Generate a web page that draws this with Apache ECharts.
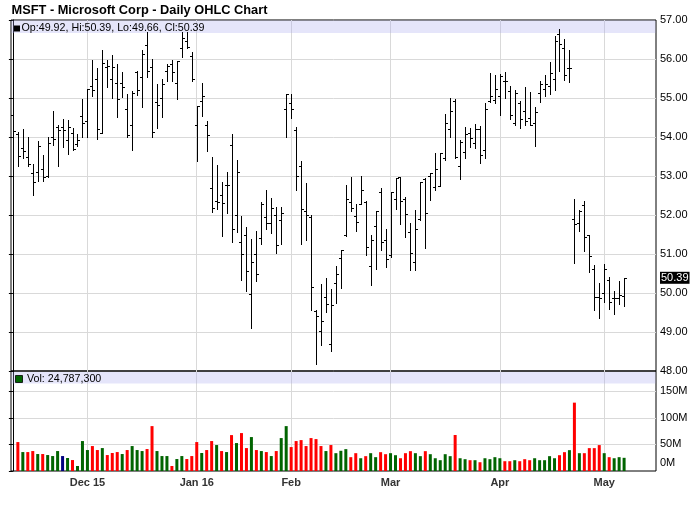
<!DOCTYPE html>
<html><head><meta charset="utf-8">
<script src="https://cdn.jsdelivr.net/npm/echarts@6/dist/echarts.min.js"></script>
<style>html,body{margin:0;padding:0;background:#fff}#c{width:700px;height:512px}</style>
</head><body><div id="c"></div>
<script>
var dates = [
'2015-11-09','2015-11-10','2015-11-11','2015-11-12','2015-11-13','2015-11-16','2015-11-17','2015-11-18','2015-11-19','2015-11-20','2015-11-23','2015-11-24','2015-11-25','2015-11-27','2015-11-30',
'2015-12-01','2015-12-02','2015-12-03','2015-12-04','2015-12-07','2015-12-08','2015-12-09','2015-12-10','2015-12-11','2015-12-14','2015-12-15','2015-12-16','2015-12-17','2015-12-18','2015-12-21','2015-12-22','2015-12-23','2015-12-24','2015-12-28','2015-12-29','2015-12-30','2015-12-31',
'2016-01-04','2016-01-05','2016-01-06','2016-01-07','2016-01-08','2016-01-11','2016-01-12','2016-01-13','2016-01-14','2016-01-15','2016-01-19','2016-01-20','2016-01-21','2016-01-22','2016-01-25','2016-01-26','2016-01-27','2016-01-28','2016-01-29',
'2016-02-01','2016-02-02','2016-02-03','2016-02-04','2016-02-05','2016-02-08','2016-02-09','2016-02-10','2016-02-11','2016-02-12','2016-02-16','2016-02-17','2016-02-18','2016-02-19','2016-02-22','2016-02-23','2016-02-24','2016-02-25','2016-02-26','2016-02-29',
'2016-03-01','2016-03-02','2016-03-03','2016-03-04','2016-03-07','2016-03-08','2016-03-09','2016-03-10','2016-03-11','2016-03-14','2016-03-15','2016-03-16','2016-03-17','2016-03-18','2016-03-21','2016-03-22','2016-03-23','2016-03-24','2016-03-28','2016-03-29','2016-03-30','2016-03-31',
'2016-04-01','2016-04-04','2016-04-05','2016-04-06','2016-04-07','2016-04-08','2016-04-11','2016-04-12','2016-04-13','2016-04-14','2016-04-15','2016-04-18','2016-04-19','2016-04-20','2016-04-21','2016-04-22','2016-04-25','2016-04-26','2016-04-27','2016-04-28','2016-04-29',
'2016-05-02','2016-05-03','2016-05-04','2016-05-05','2016-05-06'];

var opens = [
54.56,54.08,53.71,53.49,53.08,53.10,53.18,53.00,53.99,54.25,54.25,53.93,54.10,53.81,54.53,
54.41,55.32,55.49,54.11,55.79,55.49,55.38,55.39,54.71,54.32,55.66,55.54,56.37,55.79,54.91,55.00,55.68,55.87,55.38,56.28,56.47,56.07,
54.32,54.93,54.32,52.70,52.37,52.51,52.76,53.80,52.00,51.31,51.48,49.98,51.00,51.41,51.94,51.79,52.01,51.86,54.73,
54.88,54.17,53.25,52.10,51.94,49.55,49.02,49.89,48.68,50.25,50.90,51.49,52.33,51.97,52.28,52.34,50.69,51.73,52.60,51.35,
50.97,52.41,52.97,52.40,51.56,50.80,51.89,52.93,53.00,52.71,52.75,53.45,54.21,54.92,53.25,53.61,54.11,53.84,54.21,53.66,54.93,54.95,
55.05,55.43,55.19,54.36,54.87,54.67,54.49,54.37,55.12,55.22,55.30,55.49,56.63,56.29,55.78,51.91,51.79,52.26,51.48,50.62,49.89,
50.00,50.34,49.86,49.87,49.92];

var highs = [
54.89,54.12,54.21,54.00,53.31,53.90,53.54,54.00,54.67,54.31,54.47,54.44,54.23,54.07,54.97,
55.23,55.98,55.78,56.24,55.97,56.11,55.88,55.66,55.11,55.18,55.68,56.24,56.69,56.00,55.36,55.49,55.87,55.98,55.96,56.69,56.69,56.18,
54.80,55.39,54.40,53.49,53.28,52.85,53.10,54.07,53.42,51.97,51.68,51.38,51.58,52.33,52.65,52.44,52.20,52.21,55.09,
55.09,54.26,53.39,52.81,52.00,49.57,50.24,50.39,50.11,50.68,51.09,52.77,52.97,52.28,53.00,52.37,51.50,52.10,52.70,51.65,
52.59,52.96,52.97,52.45,51.80,52.13,52.85,52.94,53.07,53.59,53.59,54.60,55.00,54.97,53.93,54.25,54.24,54.33,54.29,54.86,55.64,55.59,
55.61,55.66,55.30,55.20,54.93,55.28,55.15,54.78,55.44,55.58,55.92,56.59,56.77,56.52,56.23,52.42,52.14,52.35,51.50,50.72,50.25,
50.75,50.41,50.06,50.30,50.39];

var lows = [
53.54,53.26,53.45,53.26,52.52,52.86,52.86,52.98,53.80,53.26,53.74,53.57,53.67,53.77,53.99,
54.01,55.06,53.94,54.10,55.27,55.00,54.51,55.02,54.01,53.67,55.08,54.76,55.54,54.01,54.23,54.51,55.43,55.43,54.97,56.05,56.28,55.43,
53.39,54.54,53.64,52.07,52.15,51.46,52.06,51.30,51.57,50.34,50.06,49.10,50.30,51.26,51.65,51.55,51.02,51.25,54.00,
54.50,52.65,51.26,51.35,49.56,48.19,48.67,49.52,48.51,49.75,50.13,51.45,52.10,51.59,52.28,50.98,50.20,50.61,51.10,50.66,
50.92,52.16,51.78,51.43,50.58,50.60,51.86,51.16,52.38,52.63,52.74,53.40,54.00,53.45,52.93,53.46,53.74,53.73,53.33,53.45,54.90,54.86,
54.57,55.00,54.46,54.32,54.23,54.32,54.30,53.76,54.89,55.06,55.11,55.20,55.68,55.47,55.42,50.77,51.60,51.07,50.53,49.56,49.35,
49.77,49.60,49.46,49.73,49.66];

var closes = [
54.16,53.51,53.65,53.32,52.84,53.77,52.97,53.85,53.94,54.19,54.19,54.25,53.69,53.93,54.35,
55.22,55.21,54.20,55.91,55.81,55.79,54.98,55.27,54.06,55.14,55.20,56.13,55.70,54.13,54.83,55.35,55.82,55.67,55.95,56.55,56.31,55.48,
54.80,55.05,54.05,52.17,52.33,52.30,52.78,51.64,53.11,50.99,50.56,50.79,50.48,52.29,51.79,52.17,51.22,52.06,55.09,
54.71,53.00,52.16,52.00,50.16,49.41,49.28,49.71,49.69,50.50,51.09,52.42,52.19,51.82,52.65,51.18,51.36,52.10,51.30,50.88,
52.58,52.95,52.35,52.03,51.03,51.65,52.84,52.05,53.07,53.17,53.59,54.35,54.66,53.49,53.86,54.07,53.97,54.21,53.54,54.71,55.05,55.23,
55.57,55.43,54.56,55.12,54.46,54.42,54.31,54.65,55.35,55.36,55.65,56.46,56.39,55.59,55.78,51.78,52.11,51.44,50.94,49.90,49.87,
50.61,49.78,49.87,49.94,50.39];

// volume in millions of shares (first day not drawn)
var volumes = [
null,54.4,35.6,35.6,37.5,31.9,31.9,30.0,28.1,37.5,28.1,24.4,20.6,9.4,56.3,
39.4,46.9,39.4,43.1,30.0,33.8,35.6,31.9,39.4,46.9,39.4,37.5,41.3,84.4,37.5,28.1,28.1,9.4,22.5,28.1,22.5,28.1,
54.4,33.8,39.4,56.3,48.8,37.5,35.6,67.5,52.5,71.3,43.1,63.8,39.4,37.5,35.6,28.1,37.5,61.9,84.4,
45.0,56.3,58.1,46.9,61.9,60.0,46.9,37.5,48.8,33.5,38.0,41.1,26.0,33.5,24.0,27.9,33.5,26.0,35.4,31.6,
33.5,29.7,24.0,33.5,37.3,33.5,27.9,37.3,31.6,24.0,20.3,31.6,27.9,67.7,24.0,22.2,20.3,20.3,16.5,24.0,22.2,26.0,
24.0,18.4,18.4,20.3,18.4,22.2,20.3,24.0,20.3,20.3,27.9,24.0,29.7,35.4,39.2,128.5,33.5,33.5,43.0,43.0,48.7,
33.5,26.0,24.0,26.0,24.7873];

var monthLabels = ['Dec 15','Jan 16','Feb','Mar','Apr','May'];

var tickIdx = [];
for (var i = 1; i < dates.length; i++) {
  if (dates[i].slice(0, 7) !== dates[i - 1].slice(0, 7)) tickIdx.push(i);
}
var labelMap = {};
tickIdx.forEach(function (t, k) { labelMap[t] = monthLabels[k]; });

var ohlc = dates.map(function (d, i) { return [i, opens[i], highs[i], lows[i], closes[i]]; });
var vol = [];
dates.forEach(function (d, i) {
  if (volumes[i] == null) return;
  var col = closes[i] > closes[i - 1] ? '#006400' : (closes[i] < closes[i - 1] ? '#ff0000' : '#000080');
  vol.push({ value: [i, volumes[i] * 1e6], itemStyle: { color: col } });
});

var last = dates.length - 1;
var ohlcText = 'Op:' + opens[last].toFixed(2) + ', Hi:' + highs[last].toFixed(2) +
  ', Lo:' + lows[last].toFixed(2) + ', Cl:' + closes[last].toFixed(2);
var volText = 'Vol: ' + Math.round(volumes[last] * 1e6).toLocaleString('en-US');

var FONT = 'Liberation Sans, Arial, Helvetica, sans-serif';
var GRID_COL = '#d9d9d9';

function renderOHLC(params, api) {
  var x = api.value(0);
  var pO = api.coord([x, api.value(1)]);
  var pH = api.coord([x, api.value(2)]);
  var pL = api.coord([x, api.value(3)]);
  var pC = api.coord([x, api.value(4)]);
  var cx = Math.round(pH[0]) + 0.5;
  var oy = Math.round(pO[1]) + 0.5, cy = Math.round(pC[1]) + 0.5;
  var st = { stroke: '#000', lineWidth: 1 };
  return {
    type: 'group',
    children: [
      { type: 'line', shape: { x1: cx, y1: Math.round(pH[1]), x2: cx, y2: Math.round(pL[1]) + 1 }, style: st },
      { type: 'line', shape: { x1: cx - 2.5, y1: oy, x2: cx, y2: oy }, style: st },
      { type: 'line', shape: { x1: cx, y1: cy, x2: cx + 2.5, y2: cy }, style: st }
    ]
  };
}

var chart = echarts.init(document.getElementById('c'), null, { renderer: 'canvas' });

function xAxisCfg(gi, showLabel) {
  return {
    type: 'value', gridIndex: gi, min: -0.38, max: 129.42,
    axisLine: { show: false },
    axisTick: { show: false, customValues: tickIdx },
    axisLabel: {
      show: showLabel, customValues: tickIdx,
      formatter: function (v) { return labelMap[v] || ''; },
      color: '#333', fontWeight: 'bold', fontSize: 11, fontFamily: FONT, margin: 6
    },
    splitLine: { show: true, lineStyle: { color: GRID_COL, width: 1 } }
  };
}

chart.setOption({
  animation: false,
  backgroundColor: '#fff',
  grid: [
    { left: 11, right: 44, top: 20, height: 351, show: true, borderColor: '#000', borderWidth: 1, backgroundColor: 'transparent' },
    { left: 11, right: 44, top: 371, height: 100, show: true, borderColor: '#000', borderWidth: 1, backgroundColor: 'transparent' }
  ],
  xAxis: [xAxisCfg(0, false), xAxisCfg(1, true)],
  yAxis: [
    {
      type: 'value', gridIndex: 0, position: 'right', min: 48, max: 57, interval: 1,
      axisLine: { show: true, lineStyle: { color: '#000', width: 1 } },
      axisTick: { show: true, inside: true, length: 4, lineStyle: { color: '#000' } },
      axisLabel: { formatter: function (v) { return v.toFixed(2); }, color: '#000', fontSize: 11, fontFamily: FONT, margin: 4 },
      splitLine: { show: true, showMinLine: false, showMaxLine: false, lineStyle: { color: GRID_COL } }
    },
    {
      type: 'value', gridIndex: 1, position: 'right', min: 0, max: 188e6, interval: 50e6,
      axisLine: { show: true, lineStyle: { color: '#000', width: 1 } },
      axisTick: { show: true, inside: true, length: 4, lineStyle: { color: '#000' } },
      axisLabel: {
        showMaxLabel: false, color: '#000', fontSize: 11, fontFamily: FONT, margin: 4,
        formatter: function (v) { return v === 0 ? '{z|0M}' : Math.round(v / 1e6) + 'M'; },
        rich: { z: { fontSize: 11, fontFamily: FONT, color: '#000', padding: [0, 0, 17, 0] } }
      },
      splitLine: { show: true, showMinLine: false, showMaxLine: false, lineStyle: { color: GRID_COL } }
    }
  ],
  graphic: [
    { type: 'rect', z: 1, shape: { x: 11.5, y: 20.5, width: 644, height: 12.5 }, style: { fill: 'rgba(170,170,240,0.3)' }, silent: true },
    { type: 'rect', z: 1, shape: { x: 11.5, y: 372, width: 644, height: 11.5 }, style: { fill: 'rgba(170,170,240,0.3)' }, silent: true },
    { type: 'rect', z: 5, shape: { x: 14, y: 25.5, width: 6, height: 6 }, style: { fill: '#000' }, silent: true },
    { type: 'rect', z: 5, shape: { x: 15.5, y: 375.5, width: 7, height: 7 }, style: { fill: '#006400', stroke: '#000', lineWidth: 0.8 }, silent: true },
    { type: 'text', z: 5, x: 21.5, y: 28.5, style: { text: ohlcText, fill: '#000', font: '10.7px ' + FONT, verticalAlign: 'middle' }, silent: true },
    { type: 'text', z: 5, x: 27, y: 379, style: { text: volText, fill: '#000', font: '10.7px ' + FONT, verticalAlign: 'middle' }, silent: true },
    { type: 'text', z: 5, x: 11.5, y: 10, style: { text: 'MSFT - Microsoft Corp - Daily OHLC Chart', fill: '#000', font: 'bold 12.8px ' + FONT, verticalAlign: 'middle' }, silent: true }
  ],
  series: [
    {
      type: 'custom', name: 'MSFT', xAxisIndex: 0, yAxisIndex: 0, z: 3,
      renderItem: renderOHLC, data: ohlc, encode: { x: 0, y: [1, 2, 3, 4] }, silent: true,
      markLine: {
        silent: true, symbol: 'none', animation: false,
        lineStyle: { color: 'rgba(0,0,0,0)', width: 0, type: 'solid' },
        label: {
          show: true, position: 'end', distance: 4,
          formatter: closes[last].toFixed(2),
          backgroundColor: '#000', color: '#fff', fontSize: 11, fontFamily: FONT, padding: [1, 1, 0, 1]
        },
        data: [{ yAxis: closes[last] }]
      }
    },
    {
      type: 'bar', name: 'Volume', xAxisIndex: 1, yAxisIndex: 1, barWidth: 3, data: vol, silent: true
    }
  ]
});
</script>
</body></html>
